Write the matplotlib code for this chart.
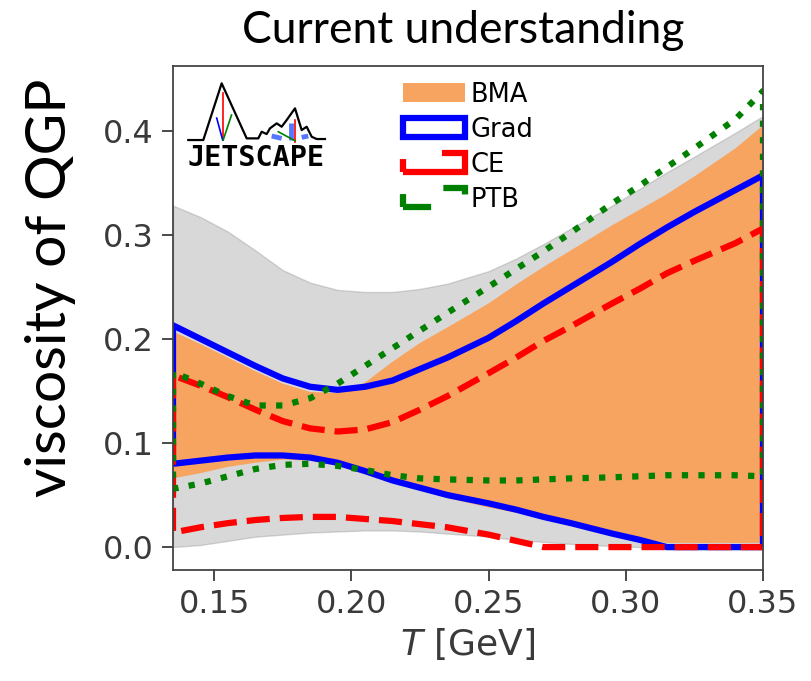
import matplotlib
matplotlib.use("Agg")
import matplotlib.pyplot as plt

# temperature grid [GeV]
T = [0.135, 0.145, 0.155, 0.165, 0.175, 0.185, 0.195, 0.205, 0.215, 0.225, 0.235,
     0.25, 0.26, 0.27, 0.28, 0.295, 0.305, 0.315, 0.325, 0.34, 0.35]

# prior (gray) band
prior_hi = [0.328, 0.317, 0.303, 0.285, 0.266, 0.254, 0.247, 0.245, 0.245, 0.248, 0.253,
            0.265, 0.277, 0.291, 0.306, 0.328, 0.344, 0.360, 0.375, 0.398, 0.414]
prior_lo = [0.000, 0.002, 0.006, 0.010, 0.012, 0.014, 0.015, 0.016, 0.016, 0.015, 0.013,
            0.010, 0.007, 0.005, 0.003, 0.001, 0.000, -0.002, -0.002, -0.002, -0.002]

# BMA band
bma_hi = [0.207, 0.195, 0.182, 0.169, 0.157, 0.149, 0.148, 0.158, 0.178, 0.196, 0.211,
          0.234, 0.252, 0.269, 0.285, 0.309, 0.324, 0.339, 0.356, 0.383, 0.405]
bma_lo = [0.066, 0.071, 0.077, 0.081, 0.084, 0.083, 0.078, 0.070, 0.062, 0.055, 0.047,
          0.038, 0.033, 0.027, 0.022, 0.014, 0.008, 0.004, 0.004, 0.004, 0.004]

# Grad
grad_hi = [0.213, 0.200, 0.187, 0.174, 0.162, 0.154, 0.151, 0.154, 0.160, 0.171, 0.182,
           0.201, 0.217, 0.234, 0.250, 0.274, 0.291, 0.307, 0.322, 0.343, 0.357]
grad_lo = [0.080, 0.083, 0.086, 0.088, 0.088, 0.086, 0.081, 0.073, 0.064, 0.057, 0.050,
           0.042, 0.036, 0.029, 0.023, 0.013, 0.007, 0.000, 0.000, 0.000, 0.000]

# CE
ce_hi = [0.165, 0.155, 0.144, 0.132, 0.121, 0.114, 0.111, 0.113, 0.120, 0.132, 0.145,
         0.167, 0.182, 0.198, 0.212, 0.234, 0.248, 0.263, 0.275, 0.292, 0.306]
ce_lo = [0.014, 0.019, 0.023, 0.026, 0.028, 0.029, 0.029, 0.027, 0.025, 0.022, 0.019,
         0.012, 0.006, 0.000, 0.000, 0.000, 0.000, 0.000, 0.000, 0.000, 0.000]

# PTB
ptb_hi = [0.168, 0.157, 0.145, 0.136, 0.136, 0.143, 0.157, 0.174, 0.191, 0.208, 0.225,
          0.250, 0.267, 0.284, 0.302, 0.330, 0.347, 0.365, 0.383, 0.411, 0.438]
ptb_lo = [0.056, 0.061, 0.068, 0.075, 0.079, 0.080, 0.078, 0.074, 0.069, 0.066, 0.065,
          0.064, 0.064, 0.065, 0.066, 0.067, 0.068, 0.069, 0.069, 0.069, 0.068]

xticks = [0.15, 0.20, 0.25, 0.30, 0.35]
yticks = [0.0, 0.1, 0.2, 0.3, 0.4]

fig = plt.figure(figsize=(8.11, 6.81), dpi=100)
ax = fig.add_axes([0.2133, 0.163, 0.7275, 0.740])

lw = 4.5
ax.fill_between(T, prior_lo, prior_hi, color="gray", alpha=0.3, lw=1)
ax.fill_between(T, bma_lo, bma_hi, facecolor="#f7a460", edgecolor="none", lw=0, label="BMA")
ax.fill_between(T, grad_lo, grad_hi, facecolor="none", edgecolor="blue", lw=lw, label="Grad")
ax.fill_between(T, ce_lo, ce_hi, facecolor="none", edgecolor="red", lw=lw, ls="--", label="CE")
ax.fill_between(T, ptb_lo, ptb_hi, facecolor="none", edgecolor="green", lw=lw, ls=":", label="PTB")

ax.set_xlim(T[0], T[-1])
ax.set_ylim(-0.022, 0.462)
ax.set_xticks(xticks)
ax.set_xticklabels([f"{v:.2f}" for v in xticks])
ax.set_yticks(yticks)
ax.set_yticklabels([f"{v:.1f}" for v in yticks])
ax.tick_params(labelsize=23, length=8, width=1.3, pad=6, colors="#3a3a3a")
for s in ax.spines.values():
    s.set_color("#444444")
    s.set_linewidth(1.3)

ax.set_xlabel("$T$ [GeV]", fontsize=26, color="#3a3a3a", labelpad=4)
fig.text(0.062, 0.578, "viscosity of QGP", rotation=90, fontsize=41,
         family="Lato", ha="center", va="center")
fig.text(0.571, 0.955, "Current understanding", fontsize=32,
         family="Lato", ha="center", va="center")

ax.legend(loc="upper left", bbox_to_anchor=(0.36, 1.005), frameon=False,
          fontsize=18.5, handlelength=2.4, handleheight=0.8, labelspacing=0.35,
          handletextpad=0.2, borderpad=0.2)

# JETSCAPE logo, drawn in axes fraction
logo_x = [0.0259, 0.0514, 0.0825, 0.1249, 0.1446, 0.1503, 0.1588, 0.1644, 0.1758,
          0.1842, 0.1927, 0.2068, 0.2181, 0.2266, 0.2351, 0.2436, 0.2576]
logo_y = [0.8532, 0.8532, 0.9657, 0.8565, 0.8565, 0.8696, 0.8651, 0.8764, 0.8863,
          0.8796, 0.8929, 0.9161, 0.8730, 0.8796, 0.8597, 0.8552, 0.8552]
tr = ax.transAxes
ax.plot(logo_x, logo_y, color="black", lw=1.6, transform=tr, clip_on=False)
ax.plot([0.0842, 0.0842], [0.9464, 0.8532], color="red", lw=1.2, transform=tr)
ax.plot([0.0741, 0.0842], [0.8968, 0.8532], color="blue", lw=1.2, transform=tr)
ax.plot([0.0992, 0.0851], [0.9028, 0.8532], color="green", lw=1.2, transform=tr)
ax.plot([0.2068, 0.2068], [0.8929, 0.8498], color="red", lw=1.2, transform=tr)
ax.plot([0.1673, 0.1842], [0.8611, 0.8565], color="#5577ff", lw=3.5, transform=tr, solid_capstyle="butt")
ax.plot([0.1994, 0.1994], [0.8863, 0.8532], color="#5577ff", lw=3.5, transform=tr, solid_capstyle="butt")
ax.plot([0.2181, 0.2293], [0.8585, 0.8611], color="#5577ff", lw=3.5, transform=tr, solid_capstyle="butt")
ax.plot([0.1785, 0.2068], [0.8696, 0.8518], color="green", lw=1.2, transform=tr)
ax.text(0.1415, 0.8175, "JETSCAPE", transform=tr, fontsize=20.5, fontweight="bold",
        family="DejaVu Sans Mono", ha="center", va="center")

fig.savefig("out.png", dpi=100)
